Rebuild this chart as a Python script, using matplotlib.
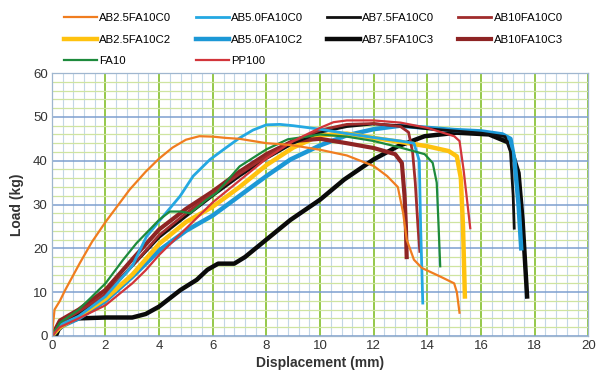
import matplotlib
matplotlib.use("Agg")
import matplotlib.pyplot as plt
from matplotlib.ticker import MultipleLocator

plt.rcParams['font.family'] = ['Liberation Sans', 'DejaVu Sans']

# ---- data ----
ab25c0_x = [0, 0.05, 0.1, 0.3, 0.5, 1.04, 1.5, 2, 2.9, 3.5, 4, 4.5, 5, 5.5, 6, 6.5, 7, 7.5, 8, 8.5, 9, 10, 11, 12, 12.5, 12.9, 13.1, 13.23, 13.5, 13.8, 14.5, 15, 15.1, 15.2]
ab25c0_y = [0, 3, 6, 8, 10.5, 16.6, 21.5, 26, 33.4, 37.5, 40.5, 43, 44.8, 45.6, 45.5, 45.2, 45, 44.5, 44, 43.8, 43.5, 42.5, 41.2, 38.8, 36.5, 34, 28, 22, 17.4, 15.5, 13.5, 12, 10, 5.3]

ab50c0_x = [0, 0.3, 1, 2, 3, 3.53, 4.15, 4.78, 5.27, 5.9, 6.5, 7, 7.5, 8, 8.5, 9, 10, 11, 12, 13, 13.5, 13.7, 13.75, 13.83]
ab50c0_y = [0, 2.5, 4.5, 9, 16, 22.7, 27.3, 31.9, 36.5, 40.3, 43, 45.2, 47, 48.2, 48.3, 48, 47.2, 46.2, 45.3, 44.5, 44, 40, 25, 7.5]

ab75c0_x = [0, 0.3, 1, 2, 3, 4, 5, 6, 7, 8, 9, 10, 11, 12, 13, 14, 15, 16, 16.9, 17.1, 17.2, 17.24]
ab75c0_y = [0, 3, 5, 9.5, 16, 22.5, 27.3, 32, 36.5, 40.5, 44, 46.5, 47.8, 48.4, 48, 47.3, 46.8, 46.3, 45.5, 42, 32, 24.6]

ab10c0_x = [0, 0.3, 1, 2, 3, 4, 5, 6, 7, 8, 9, 10, 11, 12, 13, 13.3, 13.45, 13.55, 13.65, 13.72]
ab10c0_y = [0, 3, 5.5, 9.5, 16, 23, 28, 32.5, 37, 41, 44.5, 47, 48.3, 48.5, 47.8, 46.5, 42, 35, 25, 19.3]

ab25c2_x = [0, 0.3, 1, 2, 3, 4, 5, 6, 7, 8, 9, 10, 11, 12, 13, 14, 14.8, 15.1, 15.25, 15.33, 15.4]
ab25c2_y = [0, 2, 4.5, 8.5, 14, 21, 26, 29.5, 34, 39, 43, 45.8, 46.2, 45.2, 44.3, 43.3, 42.2, 41, 36, 25, 9]

ab50c2_x = [0, 0.3, 1, 2, 3, 4, 5, 6, 7, 8, 8.9, 10, 11, 12, 13, 14, 15, 16, 16.8, 17.1, 17.25, 17.4, 17.5]
ab50c2_y = [0, 2, 4, 8, 13.5, 19.5, 24, 27.5, 32, 36.5, 40.3, 43.5, 45.8, 47.2, 48, 47.5, 47, 46.7, 46, 45, 40, 30, 20]

ab75c3_x = [0.15, 0.25, 0.5, 1, 2, 3, 3.5, 4, 4.8, 5.4, 5.8, 6.2, 6.8, 7.2, 8, 8.9, 10, 10.9, 12, 12.9, 13.9, 15.1, 16.3, 17.05, 17.4, 17.55, 17.72]
ab75c3_y = [0, 1.5, 3, 4, 4.2, 4.2, 5, 6.7, 10.5, 12.8, 15.1, 16.5, 16.5, 18, 22, 26.5, 31.1, 35.7, 40.3, 43.3, 45.6, 46.4, 46, 44.1, 37.2, 26.5, 9]

ab10c3_x = [0, 0.3, 1, 2, 3, 4, 5, 6, 7, 8, 9, 10, 11, 12, 12.8, 13.05, 13.15, 13.2, 13.23]
ab10c3_y = [0, 3.5, 6, 10.5, 17.5, 24.3, 29, 33, 37.5, 41.5, 44.5, 45, 44, 42.9, 41.5, 39.5, 32, 25, 18]

fa10_x = [0, 0.3, 1, 2, 2.66, 3.16, 4, 4.4, 4.8, 5.15, 5.77, 6.15, 7, 8, 8.8, 9.5, 10, 11, 12, 13, 13.9, 14.2, 14.35, 14.42, 14.48]
fa10_y = [0, 3, 6, 12, 17.4, 21.2, 26.5, 28.4, 28.4, 28, 31.1, 32.7, 38.7, 42.6, 44.9, 45.5, 46, 45.5, 44.5, 43, 41.5, 39.5, 35, 25, 15.9]

pp100_x = [0, 0.3, 1, 2, 3, 3.5, 4, 5, 6, 7, 8, 9, 10, 10.5, 11, 12, 13, 14, 15, 15.2, 15.35, 15.5, 15.6]
pp100_y = [0, 2, 4, 7, 12, 15, 18.5, 24.5, 30.5, 35.5, 40.5, 44.5, 47.5, 48.8, 49.2, 49.2, 48.7, 47.5, 45.6, 44.5, 38, 30, 24.6]

labels = ["AB2.5FA10C0", "AB5.0FA10C0", "AB7.5FA10C0", "AB10FA10C0",
          "AB2.5FA10C2", "AB5.0FA10C2", "AB7.5FA10C3", "AB10FA10C3",
          "FA10", "PP100"]

fig = plt.figure(figsize=(5.96, 3.77), dpi=100)
ax = fig.add_axes([0.087, 0.109, 0.900, 0.697])

# grid
ax.set_xlim(0, 20)
ax.set_ylim(0, 60)
ax.xaxis.set_major_locator(MultipleLocator(2))
ax.xaxis.set_minor_locator(MultipleLocator(0.4))
ax.yaxis.set_major_locator(MultipleLocator(10))
ax.yaxis.set_minor_locator(MultipleLocator(2))
ax.grid(which='minor', axis='x', color='#c2d6e6', lw=0.8)
ax.grid(which='minor', axis='y', color='#cfe4a0', lw=0.9)
ax.grid(which='major', axis='x', color='#8cc43a', lw=1.3)
ax.grid(which='major', axis='y', color='#7d9fcf', lw=1.1)
ax.set_axisbelow(True)
for s in ax.spines.values():
    s.set_color('#9fb6cf')
    s.set_linewidth(0.9)
ax.tick_params(which='both', length=0, labelsize=9.5, colors='#333333', pad=3)

h = {}
h["AB7.5FA10C3"], = ax.plot(ab75c3_x, ab75c3_y, color='#0a0a0a', lw=3.2, label="AB7.5FA10C3")
h["AB5.0FA10C2"], = ax.plot(ab50c2_x, ab50c2_y, color='#1c98d6', lw=3.2, label="AB5.0FA10C2")
h["AB2.5FA10C2"], = ax.plot(ab25c2_x, ab25c2_y, color='#ffc20e', lw=3.2, label="AB2.5FA10C2")
h["AB10FA10C3"], = ax.plot(ab10c3_x, ab10c3_y, color='#8e2424', lw=3.0, label="AB10FA10C3")
h["AB7.5FA10C0"], = ax.plot(ab75c0_x, ab75c0_y, color='#111111', lw=2.0, label="AB7.5FA10C0")
h["AB10FA10C0"], = ax.plot(ab10c0_x, ab10c0_y, color='#a02c2c', lw=2.0, label="AB10FA10C0")
h["AB5.0FA10C0"], = ax.plot(ab50c0_x, ab50c0_y, color='#24a8e2', lw=2.0, label="AB5.0FA10C0")
h["FA10"], = ax.plot(fa10_x, fa10_y, color='#1d8a3c', lw=1.6, label="FA10")
h["PP100"], = ax.plot(pp100_x, pp100_y, color='#d2353a', lw=1.6, label="PP100")
h["AB2.5FA10C0"], = ax.plot(ab25c0_x, ab25c0_y, color='#f07d1f', lw=1.6, label="AB2.5FA10C0")

order = ["AB2.5FA10C0", "AB2.5FA10C2", "FA10",
         "AB5.0FA10C0", "AB5.0FA10C2", "PP100",
         "AB7.5FA10C0", "AB7.5FA10C3",
         "AB10FA10C0", "AB10FA10C3"]
fig.legend([h[k] for k in order], order, ncol=4, loc='upper left',
           bbox_to_anchor=(0.1, 0.977), frameon=False, fontsize=8.2,
           handlelength=2.9, handletextpad=0.2, columnspacing=2.1,
           labelspacing=1.0, borderaxespad=0.0)

ax.set_xlabel("Displacement (mm)", fontsize=10, fontweight='bold', color='#333333', labelpad=3)
ax.set_ylabel("Load (kg)", fontsize=10, fontweight='bold', color='#333333', labelpad=6)

fig.savefig("out.png", dpi=100)
